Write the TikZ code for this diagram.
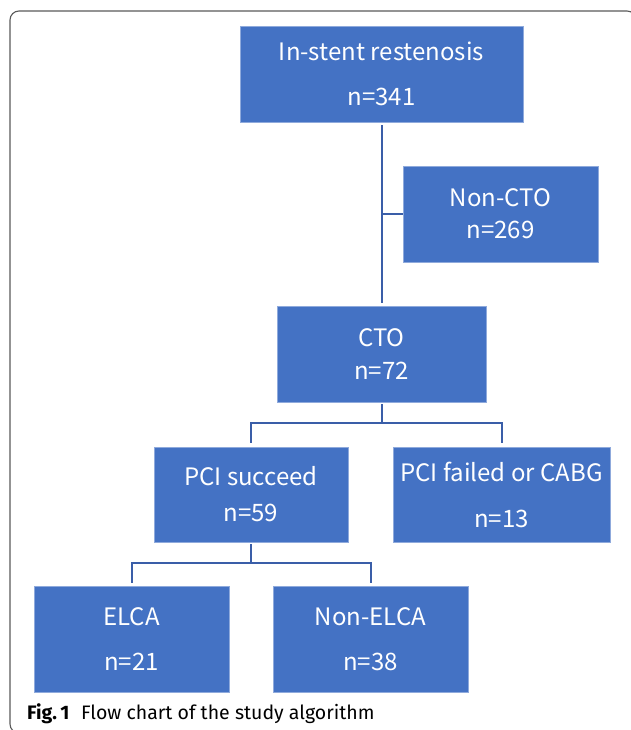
\documentclass[tikz,border=0pt]{standalone}
\usepackage{fontspec}
\setmainfont{Noto Sans CJK SC}
\newfontfamily\capfont{Fira Sans}
\definecolor{boxblue}{HTML}{4472C4}
\definecolor{boxedge}{HTML}{8FAADC}
\definecolor{linkblue}{HTML}{3A5EA8}
\definecolor{framegray}{HTML}{5A5A5A}
\begin{document}
\begin{tikzpicture}[x=1pt,y=-1pt,
  flowbox/.style={rectangle, fill=boxblue, draw=boxedge, line width=0.6pt,
    text=white, align=center, inner sep=0pt},
  link/.style={draw=linkblue, line width=2pt}]
\useasboundingbox (0,0) rectangle (630,730);
\fill[white] (0,0) rectangle (630,730);
\draw[framegray, line width=1.1pt, rounded corners=9pt] (10,11) rectangle (636,733);

\node[flowbox, minimum width=283pt, minimum height=96pt,
  font=\fontsize{24}{45}\selectfont] (isr) at (381.5,74) {In-stent restenosis\\n=341};
\node[flowbox, minimum width=195pt, minimum height=96pt,
  font=\fontsize{24}{32}\selectfont] (ncto) at (500.5,214) {Non-CTO\\n=269};
\node[flowbox, minimum width=209pt, minimum height=96pt,
  font=\fontsize{24}{33}\selectfont] (cto) at (381.5,354) {CTO\\n=72};
\node[flowbox, minimum width=194pt, minimum height=95pt,
  font=\fontsize{24}{36}\selectfont] (pcis) at (251,494.5) {PCI succeed\\n=59};
\node[flowbox, minimum width=217pt, minimum height=95pt,
  font=\fontsize{24}{46}\selectfont] (pcif) at (501.5,494.5) {PCI failed or CABG\\n=13};
\node[flowbox, minimum width=195pt, minimum height=106pt,
  font=\fontsize{24}{45}\selectfont] (elca) at (131.5,639) {ELCA\\n=21};
\node[flowbox, minimum width=195pt, minimum height=106pt,
  font=\fontsize{24}{45}\selectfont] (nelca) at (370.5,639) {Non-ELCA\\n=38};

\coordinate (j1) at (381.5,214);
\coordinate (j2) at (381.5,423);
\coordinate (j3) at (251,563);

\draw[link, shorten <=3pt, shorten >=3pt] (isr.south) -- (cto.north);
\draw[link] (j1) -- (ncto.west);
\draw[link, shorten <=2pt] (cto.south) -- (j2);
\draw[link, shorten >=4pt] (j2) -| (pcif.north);
\draw[link, shorten >=4pt] (j2) -| (pcis.north);
\draw[link, shorten <=2pt] (pcis.south) -- (j3);
\draw[link, shorten >=3pt] (j3) -| (elca.north);
\draw[link, shorten >=3pt] (j3) -| (nelca.north);

\node[anchor=base west, inner sep=0pt, font=\capfont\fontsize{19.5}{22}\selectfont] (cap) at (27,719)
  {\textbf{Fig.\,1}\hspace{0.6em}Flow chart of the study algorithm};
\end{tikzpicture}
\end{document}
